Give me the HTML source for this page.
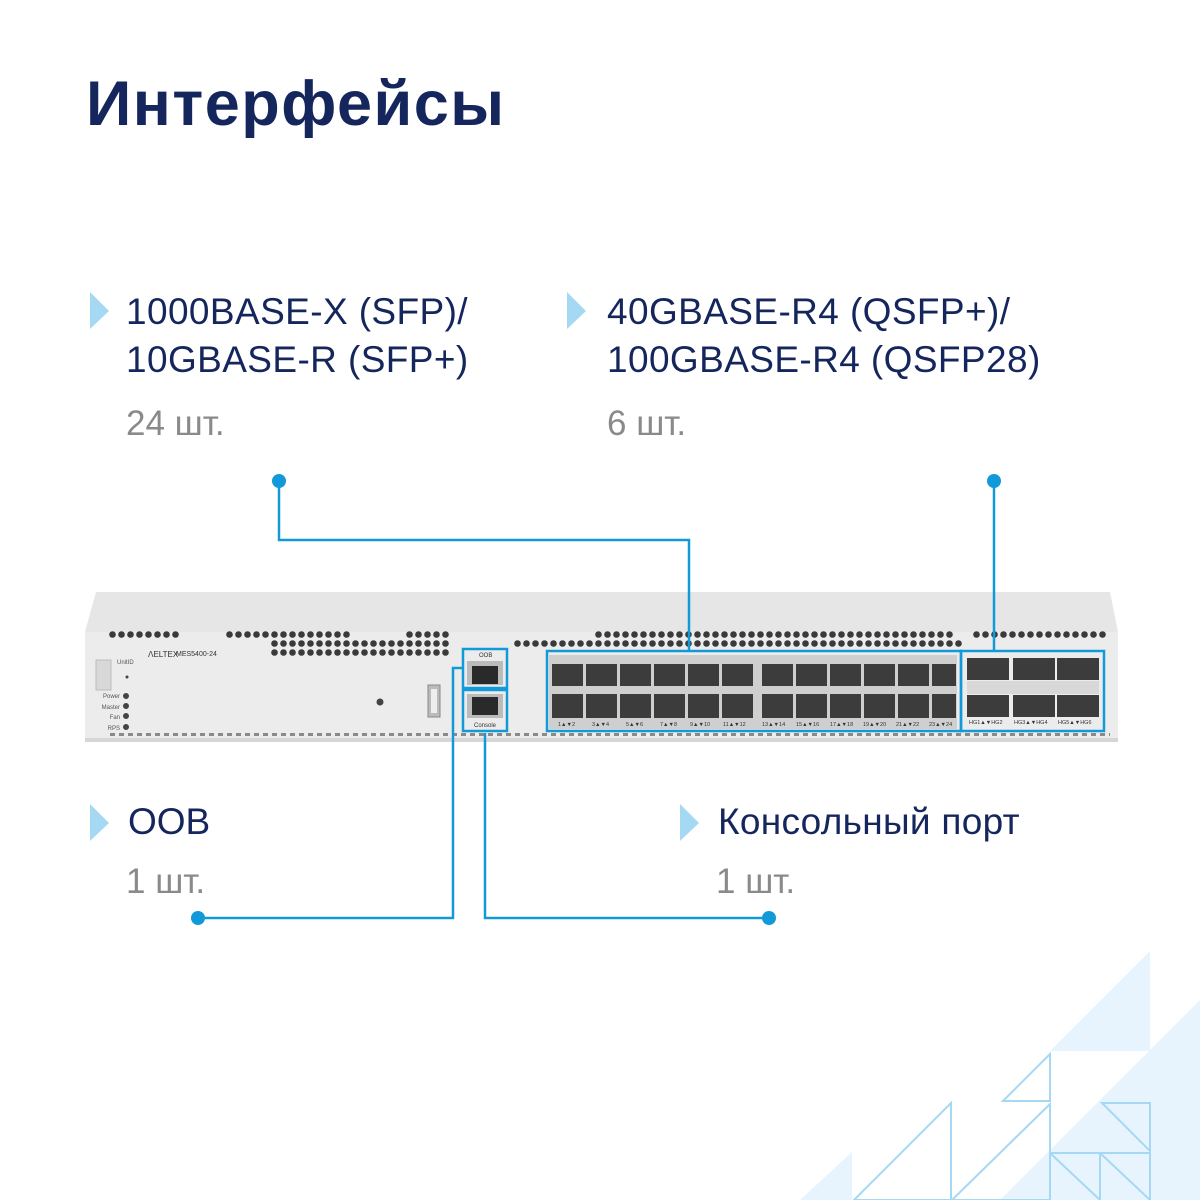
<!DOCTYPE html>
<html><head><meta charset="utf-8"><style>
body{margin:0;width:1200px;height:1200px;position:relative;background:#fff;overflow:hidden;font-family:"Liberation Sans","Noto Sans CJK SC",sans-serif}
.t{position:absolute;white-space:nowrap;color:#14265c}
.g{color:#8a8a8a}
.sw{position:absolute}
</style></head><body>
<div class="t" style="left:86px;top:68px;font-size:63px;font-weight:bold;letter-spacing:1.5px">Интерфейсы</div>

<svg class="sw" style="left:0;top:0" width="1200" height="1200">
<polygon points="1050,1051 1150,951 1150,1051" fill="#e8f4fd"/>
<polygon points="1000,1200 1200,1000 1200,1200" fill="#e8f4fd"/>
<polygon points="800,1200 852,1152 852,1200" fill="#e8f4fd"/>
<g fill="none" stroke="#a5d8f3" stroke-width="2">
<polygon points="1003,1101 1050,1054 1050,1101"/>
<polygon points="854,1200 951,1103 951,1200"/>
<polygon points="952,1200 1050,1104 1050,1200"/>
<rect x="1050" y="1153" width="50" height="50"/><line x1="1050" y1="1153" x2="1100" y2="1200"/>
<rect x="1100" y="1153" width="50" height="50"/><line x1="1100" y1="1153" x2="1150" y2="1200"/>
<polygon points="1102,1103 1150,1103 1150,1151"/>
</g>
<g fill="#a5d8f3">
<polygon points="90,292 109,311 90,329"/>
<polygon points="567,292 586,311 567,329"/>
<polygon points="90,804 109,823 90,841"/>
<polygon points="680,804 699,823 680,841"/>
</g>
<defs>
<pattern id="hx" width="9" height="9" patternUnits="userSpaceOnUse"><circle cx="4.5" cy="4.5" r="3.3" fill="#3a3a3a"/></pattern>
<pattern id="sm" width="9" height="6" patternUnits="userSpaceOnUse"><rect x="2" y="1" width="5" height="3" fill="#8a8a8a"/></pattern>
</defs>
<polygon points="85,632 96,592 1110,592 1118,632" fill="#e6e6e6"/>
<rect x="85" y="632" width="1033" height="110" fill="#ececec"/>
<rect x="85" y="738" width="1033" height="4" fill="#d6d6d6"/>
<rect x="108" y="630" width="72" height="9" fill="url(#hx)"/>
<rect x="225" y="630" width="126" height="9" fill="url(#hx)"/>
<rect x="270" y="639" width="180" height="18" fill="url(#hx)"/>
<rect x="405" y="630" width="45" height="9" fill="url(#hx)"/>
<rect x="594" y="630" width="360" height="9" fill="url(#hx)"/>
<rect x="513" y="639" width="450" height="9" fill="url(#hx)"/>
<rect x="972" y="630" width="135" height="9" fill="url(#hx)"/>
<rect x="110" y="733" width="1000" height="5" fill="url(#sm)"/>
<rect x="96" y="660" width="15" height="30" fill="#d8d8d8" stroke="#bbb"/>
<text x="117" y="664" font-size="6" fill="#555">UnitID</text>
<text x="148" y="657" font-size="8" fill="#333">ᐱELTEX</text>
<text x="176" y="656" font-size="7" fill="#333">MES5400-24</text>
<g font-size="6" fill="#555" text-anchor="end"><text x="120" y="698">Power</text><text x="120" y="709">Master</text><text x="120" y="719">Fan</text><text x="120" y="730">RPS</text></g>
<g fill="#444"><circle cx="126" cy="696" r="3"/><circle cx="126" cy="706" r="3"/><circle cx="126" cy="716" r="3"/><circle cx="126" cy="727" r="3"/><circle cx="380" cy="702" r="3.5"/><circle cx="127" cy="677" r="1.5"/></g>
<rect x="428" y="685" width="12" height="32" fill="#bbb" stroke="#888"/>
<rect x="431" y="689" width="6" height="24" fill="#eee"/>
<rect x="467" y="661" width="36" height="24" fill="#bbb"/><rect x="472" y="666" width="26" height="18" fill="#2a2a2a"/>
<rect x="467" y="694" width="36" height="24" fill="#bbb"/><rect x="472" y="697" width="26" height="18" fill="#2a2a2a"/>
<text x="479" y="657" font-size="6" fill="#333">OOB</text>
<text x="474" y="727" font-size="6" fill="#333">Console</text>
<rect x="549" y="655" width="408" height="74" fill="#cfcfcf"/>
<g fill="#3c3c3c">
<rect x="552" y="664" width="31" height="22"/><rect x="586" y="664" width="31" height="22"/><rect x="620" y="664" width="31" height="22"/><rect x="654" y="664" width="31" height="22"/><rect x="688" y="664" width="31" height="22"/><rect x="722" y="664" width="31" height="22"/>
<rect x="552" y="694" width="31" height="24"/><rect x="586" y="694" width="31" height="24"/><rect x="620" y="694" width="31" height="24"/><rect x="654" y="694" width="31" height="24"/><rect x="688" y="694" width="31" height="24"/><rect x="722" y="694" width="31" height="24"/>
<rect x="762" y="664" width="31" height="22"/><rect x="796" y="664" width="31" height="22"/><rect x="830" y="664" width="31" height="22"/><rect x="864" y="664" width="31" height="22"/><rect x="898" y="664" width="31" height="22"/><rect x="932" y="664" width="24" height="22"/>
<rect x="762" y="694" width="31" height="24"/><rect x="796" y="694" width="31" height="24"/><rect x="830" y="694" width="31" height="24"/><rect x="864" y="694" width="31" height="24"/><rect x="898" y="694" width="31" height="24"/><rect x="932" y="694" width="24" height="24"/>
<rect x="967" y="658" width="42" height="22"/><rect x="1013" y="658" width="42" height="22"/><rect x="1057" y="658" width="42" height="22"/>
<rect x="967" y="695" width="42" height="22"/><rect x="1013" y="695" width="42" height="22"/><rect x="1057" y="695" width="42" height="22"/>
</g>
<rect x="967" y="681" width="132" height="13" fill="#d8d8d8"/>
<g font-size="5.5" fill="#333"><text x="558" y="726">1▲▼2</text><text x="592" y="726">3▲▼4</text><text x="626" y="726">5▲▼6</text><text x="660" y="726">7▲▼8</text><text x="690" y="726">9▲▼10</text><text x="723" y="726">11▲▼12</text><text x="762" y="726">13▲▼14</text><text x="796" y="726">15▲▼16</text><text x="830" y="726">17▲▼18</text><text x="863" y="726">19▲▼20</text><text x="896" y="726">21▲▼22</text><text x="929" y="726">23▲▼24</text><text x="969" y="724">HG1▲▼HG2</text><text x="1014" y="724">HG3▲▼HG4</text><text x="1058" y="724">HG5▲▼HG6</text></g>
<g fill="none" stroke="#129ad8" stroke-width="2.5">
<rect x="463" y="649" width="44" height="39"/>
<rect x="463" y="690" width="44" height="41"/>
<rect x="547" y="651" width="414" height="80"/>
<rect x="961" y="651" width="143" height="80"/>
<polyline points="279,481 279,540 689,540 689,651"/>
<polyline points="994,481 994,651"/>
<polyline points="463,668 453,668 453,918 198,918"/>
<polyline points="485,733 485,918 769,918"/>
</g>
<g fill="#129ad8"><circle cx="279" cy="481" r="7"/><circle cx="994" cy="481" r="7"/><circle cx="198" cy="918" r="7"/><circle cx="769" cy="918" r="7"/></g>
</svg>

<div class="t" style="left:126px;top:288px;font-size:37px;line-height:48px;letter-spacing:0.4px">1000BASE-X (SFP)/<br>10GBASE-R (SFP+)</div>
<div class="t g" style="left:126px;top:404px;font-size:35px">24 шт.</div>
<div class="t" style="left:607px;top:288px;font-size:37px;line-height:48px;letter-spacing:0.4px">40GBASE-R4 (QSFP+)/<br>100GBASE-R4 (QSFP28)</div>
<div class="t g" style="left:607px;top:404px;font-size:35px">6 шт.</div>
<div class="t" style="left:128px;top:801px;font-size:37px">OOB</div>
<div class="t g" style="left:126px;top:862px;font-size:35px">1 шт.</div>
<div class="t" style="left:718px;top:801px;font-size:37px;letter-spacing:0.3px">Консольный порт</div>
<div class="t g" style="left:716px;top:862px;font-size:35px">1 шт.</div>
</body></html>
